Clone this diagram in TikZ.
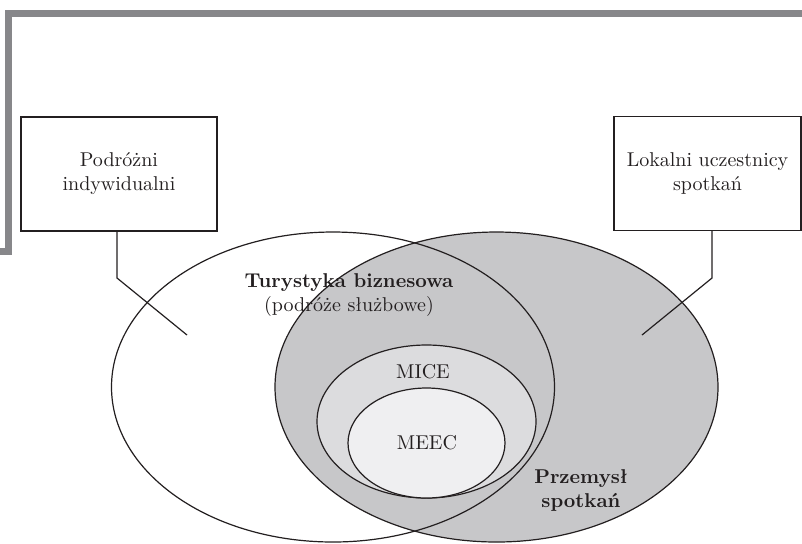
\documentclass[tikz,border=0pt]{standalone}
\usetikzlibrary{positioning}

\definecolor{framegray}{HTML}{87878A}
\definecolor{meetgray}{HTML}{C7C7C9}
\definecolor{micegray}{HTML}{DCDCDE}
\definecolor{meecgray}{HTML}{EFEFF1}
\definecolor{ink}{HTML}{231F20}

\begin{document}
\begin{tikzpicture}[x=0.5pt, y=-0.5pt,
    every node/.style={text=ink, align=center},
    outline/.style={draw=ink, line width=0.6pt},
    infobox/.style={outline, minimum width=#1, minimum height=57pt, inner sep=0pt}]
    \useasboundingbox (0,0) rectangle (802,543);

    % frame
    \draw[framegray, line width=3.5pt] (802,13.5) -- (8.5,13.5) -- (8.5,251.5) -- (0,251.5);

    % ellipses
    \fill[white] (333,387) ellipse [x radius=110.75pt, y radius=77.5pt];
    \fill[meetgray] (496.5,387) ellipse [x radius=110.75pt, y radius=77.5pt];
    \draw[outline] (333,387) ellipse [x radius=110.75pt, y radius=77.5pt];
    \draw[outline] (496.5,387) ellipse [x radius=110.75pt, y radius=77.5pt];
    \draw[outline, fill=micegray] (426.5,421.5) ellipse [x radius=54.75pt, y radius=38.25pt];
    \draw[outline, fill=meecgray] (426.5,443) ellipse [x radius=39.25pt, y radius=27.5pt];

    % labels
    \node (business) at (349,295) {\textbf{Turystyka biznesowa}\\(podróże służbowe)};
    \node (mice) at (423,372) {MICE};
    \node (meec) at (427,443) {MEEC};
    \node[font=\bfseries] (industry) at (581,490) {Przemysł\\spotkań};

    % boxes
    \node[infobox=98pt] (travellers) at (119,174) {Podróżni\\indywidualni};
    \node[infobox=93.5pt] (locals) at (707.5,173.5) {Lokalni uczestnicy\\spotkań};

    % lines
    \coordinate (tbend) at (117,278);
    \coordinate (tend) at (187,335);
    \coordinate (lbend) at (712,278);
    \coordinate (lend) at (642,335);
    \draw[outline] (travellers.south -| tbend) -- (tbend) -- (tend);
    \draw[outline] (locals.south -| lbend) -- (lbend) -- (lend);
\end{tikzpicture}
\end{document}
